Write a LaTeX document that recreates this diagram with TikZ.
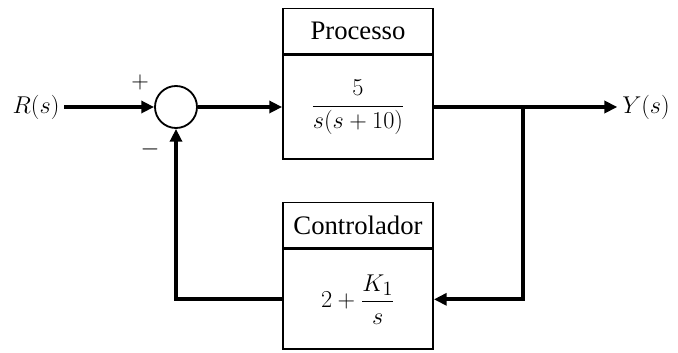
\documentclass[tikz,border=0pt]{standalone}
\usepackage{fontspec}
\setmainfont{Liberation Serif}
\usetikzlibrary{arrows.meta}

\begin{document}
\begin{tikzpicture}[
  x=0.025cm, y=-0.025cm,
  font=\fontsize{19}{22}\selectfont,
  hdr/.style={rectangle, draw, line width=1.3pt, minimum width=150*0.025cm,
    minimum height=45*0.025cm, inner sep=0pt},
  blk/.style={rectangle, draw, line width=1.3pt, minimum width=150*0.025cm,
    minimum height=104*0.025cm, inner sep=0pt},
  sumnode/.style={circle, draw, line width=1.3pt, minimum size=42*0.025cm, inner sep=0pt},
  sig/.style={line width=2.6pt},
  arr/.style={sig, -{Triangle[length=0.32cm, width=0.3cm]}},
]
\useasboundingbox (0,0) rectangle (678,353);

% Signals
\node (R) at (36,107) {$R(s)$};
\node (Y) at (646,107) {$Y(s)$};

% Summing junction
\node[sumnode] (sum) at (176,107) {};
\node (plus) at (140,82) {$+$};
\node (minus) at (150,149) {$-$};

% Processo
\node[hdr] (phdr) at (358,31) {Processo};
\node[blk, anchor=north] (pbody) at (phdr.south) {$\displaystyle\frac{5}{s(s+10)}$};

% Controlador
\node[hdr] (chdr) at (358,225) {Controlador};
\node[blk, minimum height=100*0.025cm, anchor=north] (cbody) at (chdr.south)
  {$\displaystyle 2+\frac{K_1}{s}$};

% Connections
\coordinate (branch) at (523,107);
\draw[arr] (R.east) -- (sum.west);
\draw[arr] (sum.east) -- (sum.east -| pbody.west);
\draw[sig] (sum.east -| pbody.east) -- (branch);
\draw[arr] (branch) -- (Y.west);
\draw[arr] (branch) |- (cbody.east);
\draw[arr] (cbody.west) -| (sum.south);

\end{tikzpicture}
\end{document}
